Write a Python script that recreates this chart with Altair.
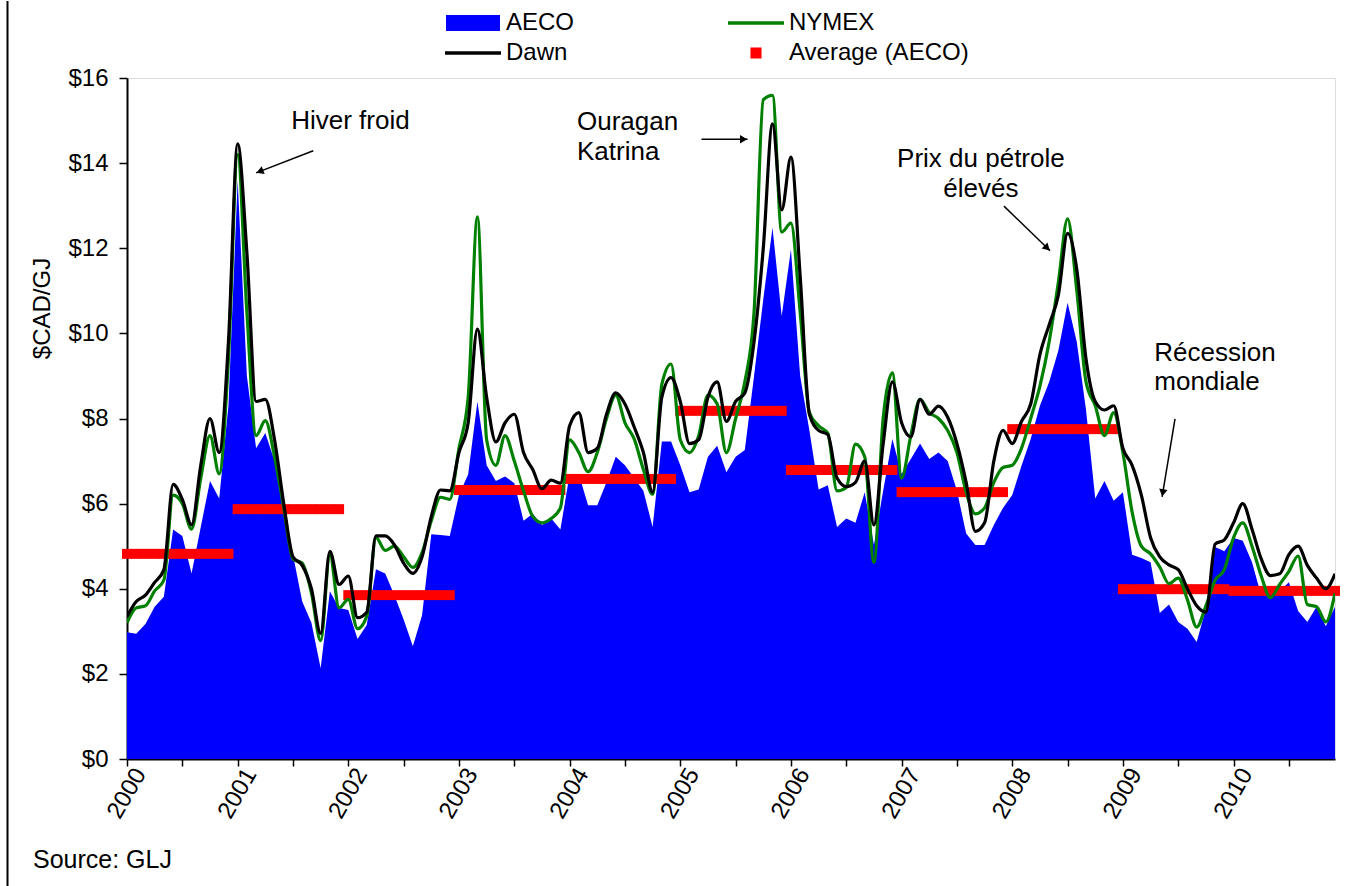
import math
import altair as alt
import numpy as np
import pandas as pd

# ---------------- data (monthly, Jan 2000 .. Dec 2010), $CAD/GJ ----------------
first_year = 2000
year_labels = list(range(2000, 2011))

aeco = [
    2.98, 2.94, 3.17, 3.58, 3.81, 5.39, 5.24, 4.36, 5.45, 6.53, 6.12, 8.30,
    13.60, 9.00, 7.30, 7.66, 7.00, 5.90, 4.80, 3.70, 3.20, 2.13, 3.94, 3.55,
    3.50, 2.82, 3.15, 4.46, 4.36, 3.85, 3.28, 2.65, 3.38, 5.28, 5.26, 5.24,
    6.20, 6.69, 8.40, 6.90, 6.53, 6.64, 6.48, 5.60, 5.76, 5.50, 5.65, 5.39,
    6.69, 6.69, 5.96, 5.96, 6.50, 7.10, 6.90, 6.60, 6.30, 5.45, 7.46, 7.46,
    6.90, 6.27, 6.33, 7.10, 7.36, 6.74, 7.10, 7.26, 9.00, 10.80, 12.48, 10.41,
    11.97, 9.00, 7.72, 6.33, 6.43, 5.45, 5.65, 5.55, 6.27, 5.03, 6.30, 7.52,
    6.69, 7.05, 7.41, 7.05, 7.20, 7.00, 6.30, 5.30, 5.03, 5.03, 5.50, 5.90,
    6.20, 6.89, 7.52, 8.30, 8.86, 9.60, 10.72, 9.80, 8.20, 6.12, 6.53, 6.07,
    6.27, 4.80, 4.72, 4.62, 3.43, 3.63, 3.22, 3.06, 2.75, 3.53, 4.98, 4.88,
    5.19, 5.13, 4.62, 3.84, 3.94, 3.94, 4.15, 3.48, 3.22, 3.58, 3.12, 3.58,
]

nymex = [
    3.20, 3.55, 3.60, 3.95, 4.20, 6.20, 6.00, 5.40, 6.60, 7.60, 6.70, 9.40,
    14.20, 10.50, 7.60, 7.95, 7.10, 5.90, 4.70, 4.60, 3.90, 2.78, 4.80, 3.55,
    3.75, 3.06, 3.35, 5.20, 4.90, 5.00, 4.75, 4.50, 4.85, 5.60, 6.15, 6.10,
    7.30, 8.50, 12.74, 7.50, 6.90, 7.60, 7.00, 6.30, 5.70, 5.55, 5.65, 5.90,
    7.50, 7.20, 6.75, 7.20, 8.00, 8.55, 7.90, 7.52, 6.80, 6.22, 8.80, 9.28,
    7.50, 7.20, 7.60, 8.55, 8.34, 7.20, 8.00, 8.86, 10.50, 15.49, 15.59, 12.38,
    12.59, 10.50, 8.14, 7.83, 7.65, 6.30, 6.38, 7.40, 7.10, 4.62, 8.00, 9.07,
    6.60, 7.60, 8.45, 8.14, 8.00, 7.72, 7.20, 6.27, 5.76, 5.90, 6.50, 6.85,
    6.90, 7.30, 8.00, 8.76, 9.80, 11.20, 12.69, 11.00, 8.86, 8.30, 7.60, 8.14,
    7.20, 5.80, 5.00, 4.82, 4.51, 4.12, 4.25, 3.74, 3.10, 3.60, 4.20, 4.45,
    5.20, 5.55, 5.00, 4.30, 3.79, 4.10, 4.41, 4.77, 3.63, 3.58, 3.22, 3.90,
]

dawn = [
    3.35, 3.70, 3.85, 4.15, 4.45, 6.45, 6.10, 5.50, 6.90, 8.00, 7.20, 9.80,
    14.45, 11.90, 8.40, 8.45, 7.50, 6.00, 4.75, 4.55, 4.00, 2.95, 4.88, 4.10,
    4.30, 3.32, 3.45, 5.24, 5.24, 5.03, 4.60, 4.36, 4.75, 5.70, 6.32, 6.30,
    7.20, 7.90, 10.10, 8.50, 7.45, 7.90, 8.10, 7.20, 6.80, 6.35, 6.55, 6.48,
    7.83, 8.14, 7.20, 7.30, 8.10, 8.60, 8.34, 7.80, 7.20, 6.27, 8.50, 8.96,
    8.40, 7.41, 7.50, 8.50, 8.86, 7.93, 8.40, 8.60, 9.80, 12.00, 14.92, 12.90,
    14.14, 11.35, 8.10, 7.72, 7.62, 6.60, 6.40, 6.50, 7.00, 5.50, 7.40, 8.86,
    7.90, 7.57, 8.45, 8.10, 8.29, 8.03, 7.41, 6.50, 5.35, 5.55, 7.00, 7.72,
    7.41, 7.93, 8.34, 9.50, 10.20, 10.90, 12.35, 11.50, 9.40, 8.40, 8.20, 8.30,
    7.30, 6.90, 6.20, 5.20, 4.75, 4.56, 4.45, 4.00, 3.60, 3.45, 5.05, 5.15,
    5.55, 6.00, 5.40, 4.70, 4.31, 4.35, 4.80, 5.00, 4.55, 4.25, 4.00, 4.35,
]

# yearly average of AECO (red bars), 2000 .. 2010
avg_aeco = [4.82, 5.87, 3.85, 6.32, 6.58, 8.18, 6.79, 6.27, 7.75, 3.99, 3.95]

# legend order (filled column by column): AECO, Dawn | NYMEX, Average (AECO)
series_names = ["AECO", "Dawn", "NYMEX", "Average (AECO)"]
series_colors = ["#0000FF", "#000000", "#008000", "#FF0000"]

# annotations (month index, value)
ann_left_text = ["Hiver froid", "Ouragan", "Katrina", "Récession", "mondiale"]
ann_left_m = [17.8, 48.8, 48.8, 111.4, 111.4]
ann_left_v = [14.99, 14.97, 14.26, 9.54, 8.86]
ann_center_text = ["Prix du pétrole", "élevés"]
ann_center_m = [92.6, 92.6]
ann_center_v = [14.10, 13.39]

arrow_tail_m = [20.2, 62.3, 95.1, 113.65]
arrow_tail_v = [14.29, 14.56, 12.99, 7.99]
arrow_head_m = [14.0, 67.3, 100.1, 112.25]
arrow_head_v = [13.77, 14.56, 11.94, 6.16]

# ---------------- layout constants ----------------
W, H = 1208, 681
N = len(aeco)
XMAX = N - 1
YMAX = 16
PXM = W / XMAX
PXV = H / YMAX
FONT = "Liberation Sans"

# ---------------- frames ----------------
months = np.arange(N)
df = pd.DataFrame({"m": months, "AECO": aeco, "NYMEX": nymex, "Dawn": dawn})
df["avg"] = [avg_aeco[i // 12] for i in months]

xs = alt.Scale(domain=[0, XMAX], nice=False, zero=False)
ys = alt.Scale(domain=[0, YMAX], nice=False)

x_axis = alt.Axis(
    values=list(range(0, XMAX, 3)),
    labelExpr=f"datum.value % 12 == 0 ? '' + ({first_year} + datum.value / 12) : ''",
    labelAngle=300, labelAlign="right", labelBaseline="middle",
    labelFontSize=24, labelFont=FONT, labelColor="black",
    labelPadding=4, labelOffset=13, labelOverlap=False, labelFlush=False,
    tickSize=7, tickColor="black", tickWidth=1.5,
    domainColor="black", domainWidth=2, grid=False, title=None,
)
y_axis = alt.Axis(
    values=list(range(0, YMAX + 1, 2)),
    labelExpr="'$' + datum.value",
    labelFontSize=24, labelFont=FONT, labelColor="black", labelPadding=11,
    tickSize=8, tickColor="black", tickWidth=1.5,
    domainColor="black", domainWidth=2, grid=False,
    title="$CAD/GJ", titleFont=FONT, titleFontSize=24, titleFontWeight="normal",
    titleColor="black", titleAngle=270, titleX=-85, titleY=230,
    titleAlign="center", titleBaseline="middle",
)

base = alt.Chart(df)

area = base.mark_area(color="#0000FF", clip=True).encode(
    x=alt.X("m:Q", scale=xs, axis=x_axis),
    y=alt.Y("AECO:Q", scale=ys, axis=y_axis),
)

avg_pts = base.mark_point(
    shape="square", filled=True, size=100, color="#FF0000", opacity=1, clip=False
).encode(x=alt.X("m:Q", scale=xs), y=alt.Y("avg:Q", scale=ys))

ny_line = base.mark_line(
    color="#008000", strokeWidth=3.2, interpolate="monotone", clip=True
).encode(x=alt.X("m:Q", scale=xs), y=alt.Y("NYMEX:Q", scale=ys))

dawn_line = base.mark_line(
    color="#000000", strokeWidth=3.2, interpolate="monotone", clip=True
).encode(x=alt.X("m:Q", scale=xs), y=alt.Y("Dawn:Q", scale=ys))

# ---------------- legend (hidden clipped points carry it) ----------------
# symbolSize 256 -> one path unit = 8 px
shape_paths = [
    "M-3.375,-1H3.375V1H-3.375Z",          # AECO: 54 x 16 box
    "M-3.5,-0.22H3.5V0.22H-3.5Z",          # Dawn: line
    "M-3.5,-0.22H3.5V0.22H-3.5Z",          # NYMEX: line
    "M-0.69,-0.69H0.69V0.69H-0.69Z",       # Average: small square
]
leg = alt.Legend(
    title=None, orient="none", legendX=334, legendY=-67, columns=2,
    symbolSize=256, symbolStrokeWidth=0, symbolOpacity=1,
    labelFont=FONT, labelFontSize=24, labelColor="black", labelOffset=21,
    columnPadding=153, rowPadding=6, padding=0, labelLimit=0,
)
leg_df = pd.DataFrame({"series": series_names, "m": [0] * 4, "v": [-50] * 4})
legend_layer = alt.Chart(leg_df).mark_point(filled=True, opacity=1, clip=True).encode(
    x=alt.X("m:Q", scale=xs),
    y=alt.Y("v:Q", scale=ys),
    color=alt.Color("series:N", scale=alt.Scale(domain=series_names, range=series_colors), legend=leg),
    shape=alt.Shape("series:N", scale=alt.Scale(domain=series_names, range=shape_paths), legend=leg),
)

# ---------------- annotations ----------------
tl = pd.DataFrame({"t": ann_left_text, "m": ann_left_m, "v": ann_left_v})
tc = pd.DataFrame({"t": ann_center_text, "m": ann_center_m, "v": ann_center_v})
txt_left = alt.Chart(tl).mark_text(
    align="left", baseline="middle", font=FONT, fontSize=26, color="black"
).encode(x=alt.X("m:Q", scale=xs), y=alt.Y("v:Q", scale=ys), text="t:N")
txt_center = alt.Chart(tc).mark_text(
    align="center", baseline="middle", font=FONT, fontSize=26, color="black"
).encode(x=alt.X("m:Q", scale=xs), y=alt.Y("v:Q", scale=ys), text="t:N")

arr = pd.DataFrame({"tm": arrow_tail_m, "tv": arrow_tail_v,
                    "hm": arrow_head_m, "hv": arrow_head_v})
angs, cms, cvs = [], [], []
for tm, tv, hm, hv in zip(arrow_tail_m, arrow_tail_v, arrow_head_m, arrow_head_v):
    dx = (hm - tm) * PXM
    dy = -(hv - tv) * PXV
    ln = math.hypot(dx, dy)
    ux, uy = dx / ln, dy / ln
    angs.append(math.degrees(math.atan2(dx, -dy)) % 360)
    cms.append(hm - ux * 4 / PXM)
    cvs.append(hv + uy * 4 / PXV)
arr["ang"] = angs
arr["cm"] = cms
arr["cv"] = cvs

arrow_lines = alt.Chart(arr).mark_rule(color="black", strokeWidth=1.5).encode(
    x=alt.X("tm:Q", scale=xs), y=alt.Y("tv:Q", scale=ys), x2="hm:Q", y2="hv:Q"
)
arrow_heads = alt.Chart(arr).mark_point(
    shape="triangle-up", filled=True, size=70, color="black", opacity=1
).encode(
    x=alt.X("cm:Q", scale=xs), y=alt.Y("cv:Q", scale=ys),
    angle=alt.Angle("ang:Q", scale=None),
)

src = alt.Chart(pd.DataFrame({"t": ["Source: GLJ"]})).mark_text(
    align="left", baseline="middle", font=FONT, fontSize=25, color="black"
).encode(text="t:N", x=alt.value(-94), y=alt.value(782))

border = alt.Chart(pd.DataFrame({"k": [0]})).mark_rule(color="black", strokeWidth=2).encode(
    x=alt.value(-119.5), y=alt.value(-77), y2=alt.value(809)
)

chart = alt.layer(
    area, avg_pts, ny_line, dawn_line, legend_layer,
    arrow_lines, arrow_heads, txt_left, txt_center, src, border,
).properties(
    width=W, height=H,
    padding={"left": 6, "top": 0, "right": 4, "bottom": 0},
    background="white",
).configure_view(
    stroke="black", strokeWidth=2
).configure(font=FONT)

chart.save("out.html", embed_options={"renderer": "svg", "actions": False})
